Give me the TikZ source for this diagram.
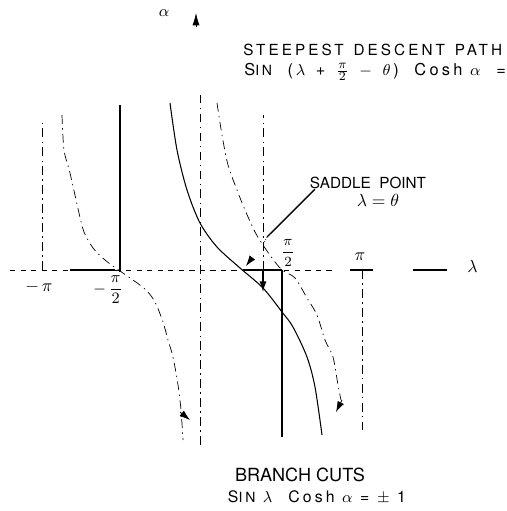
\documentclass[tikz,border=0pt]{standalone}
\usepackage{amsmath}
\usepackage{fontspec}
\setsansfont{TeX Gyre Heros}
\newfontfamily\capfont[LetterSpace=20]{TeX Gyre Heros}
\usetikzlibrary{arrows.meta}

\tikzset{
  cut/.style={thin, dash pattern=on 5pt off 2.5pt on 0.8pt off 2.5pt},
  lbl/.style={inner sep=0pt},
}

\begin{document}
\begin{tikzpicture}
        \def\hp{1.64}  % pi/2
        \def\fp{3.24}  % pi
        \useasboundingbox (-4,-4.82) rectangle (6.14,5.4);

        %------------------
        % 軸
        %------------------

        \draw[dashed, thin] (-3.8,0) -- (2.7,0);
        \draw[semithick] (-2.6,0) -- (-1.7,0);
        \draw[semithick] (3.0,0) -- (3.46,0);
        \draw[semithick] (4.26,0) -- (4.94,0);
        \node[lbl] (lam) at (5.45,0.08) {$\lambda$};

        \draw[cut] (0,-3.5) -- (0,3.5);
        \draw[-{Latex[length=7pt,width=4pt]}] (-0.08,4.86) -- (-0.08,5.14);
        \node[lbl] (alp) at (-0.72,5.14) {\small$\alpha$};

        % 目盛り
        \draw[cut] (-3.16,0) -- (-3.16,3.0);
        \draw[line width=1.1pt] (-1.6,-0.04) -- (-1.6,3.3);
        \draw[cut] (1.26,0) -- (1.26,3.1);
        \draw[line width=1.1pt] (\hp,0) -- (\hp,-3.34);
        \draw[cut] (\fp,0) -- (\fp,-3.2);

        \node[lbl] (mpi) at (-3.22,-0.34) {$-\,\pi$};
        \node[lbl] (mhp) at (-1.84,-0.4) {\small$-\,\dfrac{\pi}{2}$};
        \node[lbl] (php) at (1.76,0.34) {\footnotesize$\dfrac{\pi}{2}$};
        \node[lbl] (ppi) at (3.2,0.26) {$\pi$};

        %------------------
        % 分岐線 sin(lambda) cosh(alpha) = -1, 1
        %------------------

        \draw[cut] plot[smooth] coordinates {(-2.76,3.1) (-2.72,2.4) (-2.6,1.94)
          (-2.42,1.14) (-2.32,0.76) (-2.14,0.44) (-1.9,0.2) (-1.6,-0.02)
          (-1.34,-0.2) (-1.08,-0.4) (-0.9,-0.64) (-0.74,-1.04) (-0.64,-1.4)
          (-0.54,-1.74) (-0.44,-2.3) (-0.38,-2.8) (-0.34,-3.4)};
        \draw[-{Latex[length=6pt,width=4pt]}] (-0.4,-2.84) -- (-0.2,-3.0);

        \draw[cut] plot[smooth] coordinates {(0.34,3.34) (0.44,2.7) (0.56,2.1)
          (0.74,1.6) (0.9,1.2) (1.1,0.76) (1.26,0.5) (1.44,0.24) (\hp,0)
          (1.9,-0.16) (2.14,-0.56) (2.34,-0.9) (2.5,-1.4) (2.66,-1.74)
          (2.76,-2.3) (2.82,-2.6)};
        \draw[-{Latex[length=6pt,width=4pt]}] (2.84,-2.6) -- (2.72,-2.84);

        %------------------
        % 最急降下路
        %------------------

        \draw[semithick] plot[smooth] coordinates {(-0.6,3.34) (-0.46,2.4)
          (-0.26,1.6) (0,0.94) (0.34,0.46) (0.8,0.04) (1.26,-0.36)
          (1.64,-0.84) (1.86,-1.14) (2.14,-1.74) (2.3,-2.34) (2.44,-3.3)};

        \draw[line width=1.1pt] (0.86,0) -- (\hp,0);
        \draw[-{Latex[length=6pt,width=4pt]}] (1.04,0.24) -- (0.92,0.08);
        \draw[thick,-{Latex[length=6pt,width=4pt]}] (1.26,0) -- (1.26,-0.44);

        %------------------
        % ラベル
        %------------------

        \node[lbl, anchor=west] (sdp) at (0.86,4.4) {\capfont\fontsize{8.7}{10}\selectfont STEEPEST\, DESCENT\, PATH};
        \node[lbl, anchor=west] (sdq) at (0.88,3.96) {\capfont\fontsize{9.3}{10}\selectfont S{\footnotesize IN}\ \ (\,$\lambda$\ \,+\ \,$\tfrac{\pi}{2}$\ \,$-$\ \,$\theta$\,)\ \ Cosh\ $\alpha$\ \ =};

        \coordinate (sp) at (1.26,0.5);
        \coordinate (pk) at (1.34,0.66);
        \node[lbl] (sad) at (3.36,1.74) {\sffamily\fontsize{8.7}{10}\selectfont SADDLE\ \ POINT};
        \node[lbl] (sadq) at (3.56,1.4) {$\lambda = \theta$};
        \draw[thick] ([xshift=3pt]sad.south west) -- (pk);
        \draw[densely dotted] (pk) -- (sp);

        \node[lbl] (bc) at (2.0,-4.1) {\sffamily\fontsize{10.3}{12}\selectfont BRANCH CUTS};
        \node[lbl] (bcq) at (2.34,-4.54) {\capfont\fontsize{9}{10}\selectfont S{\footnotesize IN} $\lambda$\quad Cosh $\alpha$ = $\pm$ 1};
      \end{tikzpicture}
\end{document}
